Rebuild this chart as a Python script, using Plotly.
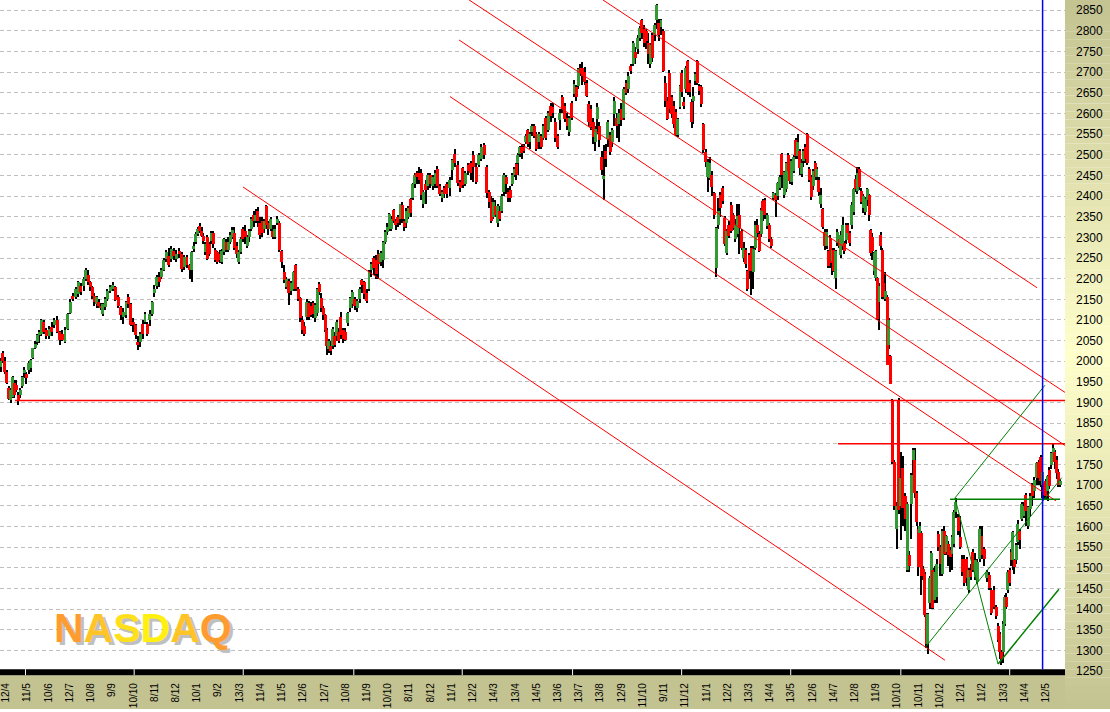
"""
NASDAQ candles with hand drawn trend channels, rebuilt in plotly.
"""
import plotly.graph_objects as go

WIDTH, HEIGHT = 1110, 712
PANEL_X = 1065  # left edge of the price panel
AXIS_Y = 678  # bottom of the plot area

month_labels = [
    "12/4", "11/5", "10/6", "12/7", "10/8", "9/9", "10/10", "8/11", "8/12", "10/1",
    "9/2", "13/3", "11/4", "11/5", "12/6", "12/7", "10/8", "11/9", "10/10", "8/11",
    "8/12", "11/1", "12/2", "14/3", "13/4", "14/5", "13/6", "13/7", "13/8", "12/9",
    "11/10", "9/11", "11/12", "11/1", "12/2", "13/3", "14/4", "13/5", "12/6", "14/7",
    "12/8", "11/9", "10/10", "10/11", "10/12", "12/1", "11/2", "13/3", "14/4", "12/5",
]
white_ticks = [0.92, 6.04, 11.18, 16.39, 21.5, 26.7, 31.84, 36.98, 42.17, 47.3]
price_ticks = list(range(1250, 2851, 50))

# one inner list per month label
opens = [
    [1985,2020,2000,1975,1935,1906,1914,1947,1943,1918,1918],
    [1939,1971,1970,1979,1983,2008,2032,2047,2063,2067],
    [2095,2075,2061,2083,2087,2099,2071,2067],
    [2047,2079,2118,2159,2155,2163,2182,2183],
    [2200,2209,2191,2179,2159,2139,2143,2135,2115,2131],
    [2151,2171,2175,2179,2155,2131,2107,2111],
    [2155,2139,2095,2087,2047,2047,2091,2095,2091],
    [2100,2115,2165,2183,2204,2204,2222,2248,2256],
    [2248,2268,2248,2268,2260,2228,2252,2232],
    [2220,2272,2288,2308,2328,2316,2303,2264,2300,2283,2292],
    [2311,2270,2265,2260,2240,2264,2290,2270,2290,2300],
    [2310,2278,2240,2265,2320,2315,2280,2300,2320,2355],
    [2340,2365,2335,2340,2320,2375,2335,2320,2315,2300],
    [2335,2335,2268,2216,2180,2195,2170,2175,2232],
    [2175,2152,2100,2085,2108,2140,2135,2140,2104,2116],
    [2188,2152,2128,2112,2076,2030,2036,2036,2062,2060,2072],
    [2108,2075,2072,2092,2128,2138,2150,2130,2150],
    [2196,2192,2165,2176,2220,2250,2244,2260,2240],
    [2245,2290,2312,2320,2320,2367,2340,2350,2345,2378],
    [2340,2335,2350,2392,2395,2430,2455,2455,2455,2380],
    [2430,2425,2450,2425,2430,2465,2425,2395,2420],
    [2430,2420,2463,2503,2475,2435,2467,2430],
    [2475,2480,2500,2470,2475,2490,2523,2470],
    [2410,2385,2350,2375,2335,2365,2365,2410,2445,2410],
    [2415,2430,2450,2478,2480,2503,2520,2520,2530,2559,2530],
    [2555,2570,2550,2530,2545,2540,2590,2560,2619],
    [2615,2580,2545,2585,2640,2619,2590,2555,2625],
    [2647,2663,2667,2710,2710,2700,2675,2623,2611,2579],
    [2531,2587,2570,2495,2442,2510,2539,2547,2530,2599],
    [2590,2575,2610,2590,2675,2660,2715,2720,2750],
    [2755,2783,2827,2805,2800,2770,2720,2790,2790,2827],
    [2820,2810,2799,2675,2631,2699,2639,2619,2603,2547],
    [2615,2699,2627,2659,2727,2675,2627,2631,2679,2727,2667],
    [2663,2575,2507,2447,2443,2451,2407,2227,2331,2403],
    [2419,2347,2263,2330,2379,2355,2295,2307,2355,2315],
    [2251,2270,2219,2258,2275,2215,2275,2330,2307,2307,2387],
    [2391,2327,2331,2295,2395,2403,2399,2420,2503,2402],
    [2417,2500,2485,2433,2460,2536,2497,2509,2453,2485,2518],
    [2550,2465,2445,2425,2480,2445,2440,2380,2368,2314,2278],
    [2266,2298,2242,2270,2202,2286,2295,2258,2278,2286,2294,2330],
    [2310,2330,2362,2441,2413,2465,2413,2370,2362,2390,2403],
    [2318,2302,2218,2202,2202,2143,2306,2270,2190,2150,2155,2040,2012],
    [1905,1757,1594,1905,1650,1741,1673,1495,1530,1655],
    [1761,1761,1680,1594,1585,1585,1498,1486,1385,1315,1415,1415,1495],
    [1422,1430,1582,1550,1486,1590,1538,1558,1542,1534,1558],
    [1634,1622,1574,1522,1522,1522,1446,1495,1538,1478],
    [1466,1522,1578,1546,1474,1482,1446,1446,1406],
    [1358,1340,1295,1295,1363,1430,1446,1494,1538,1518,1518,1518,1562],
    [1590,1618,1625,1677,1602,1642,1700,1685,1717,1757],
    [1769,1701,1705,1709,1685,1737,1749,1777,1780,1761,1733,1701],
]
closes = [
    [2000,2000,1975,1947,1908,1930,1963,1918,1930,1905,1930],
    [1963,1979,1960,1995,2003,2031,2043,2063,2071,2099],
    [2071,2061,2079,2071,2099,2071,2051,2051],
    [2075,2115,2143,2150,2175,2191,2167,2200],
    [2220,2193,2179,2159,2143,2155,2135,2131,2139,2151],
    [2171,2179,2185,2149,2133,2111,2119,2143],
    [2139,2087,2087,2063,2039,2067,2067,2115,2067],
    [2115,2143,2175,2204,2191,2220,2244,2264,2232],
    [2272,2256,2260,2260,2224,2252,2232,2220],
    [2264,2280,2308,2320,2316,2303,2292,2283,2248,2260,2311],
    [2283,2245,2240,2245,2268,2295,2270,2290,2305,2318],
    [2275,2260,2265,2295,2295,2300,2300,2315,2345,2340],
    [2355,2340,2305,2310,2340,2330,2320,2345,2300,2320],
    [2345,2270,2240,2196,2200,2165,2190,2215,2175],
    [2150,2105,2076,2066,2144,2108,2112,2115,2136,2176],
    [2168,2128,2112,2076,2038,2050,2024,2078,2040,2096,2050],
    [2064,2055,2052,2116,2152,2168,2135,2145,2175],
    [2184,2164,2145,2216,2235,2225,2212,2236,2262],
    [2290,2312,2325,2356,2345,2340,2330,2335,2380,2345],
    [2325,2365,2370,2360,2430,2450,2445,2440,2403,2410],
    [2415,2450,2430,2445,2455,2425,2405,2410,2405],
    [2405,2440,2487,2479,2431,2420,2427,2455],
    [2460,2455,2470,2435,2500,2520,2499,2408],
    [2385,2340,2385,2355,2375,2345,2400,2450,2430,2395],
    [2395,2450,2465,2452,2500,2519,2505,2510,2545,2527,2550],
    [2570,2545,2515,2550,2520,2570,2540,2600,2595],
    [2600,2540,2520,2600,2610,2587,2570,2590,2590],
    [2671,2639,2707,2698,2690,2676,2643,2579,2567,2543],
    [2563,2615,2535,2463,2448,2490,2579,2507,2560,2631],
    [2570,2600,2585,2660,2650,2690,2703,2770,2735],
    [2783,2807,2795,2770,2775,2745,2765,2735,2815,2862],
    [2790,2826,2703,2631,2587,2611,2599,2575,2547,2587],
    [2667,2651,2619,2711,2651,2651,2579,2643,2695,2675,2655],
    [2623,2511,2483,2483,2479,2423,2355,2323,2363,2371],
    [2387,2283,2315,2303,2315,2323,2331,2351,2323,2275],
    [2275,2235,2175,2219,2219,2271,2331,2311,2267,2367,2363],
    [2355,2355,2295,2279,2407,2391,2431,2445,2451,2458],
    [2480,2460,2437,2485,2495,2497,2530,2469,2480,2510,2490],
    [2480,2440,2397,2460,2445,2465,2410,2403,2326,2278,2314],
    [2230,2238,2270,2218,2266,2314,2280,2306,2330,2266,2330,2310],
    [2286,2378,2417,2417,2457,2421,2385,2400,2393,2417,2354],
    [2262,2266,2262,2266,2103,2183,2278,2155,2155,2170,1992,2100,1945],
    [1757,1650,1650,1640,1717,1645,1618,1655,1505,1725],
    [1785,1681,1610,1502,1600,1480,1480,1385,1315,1387,1475,1535,1403],
    [1490,1510,1550,1510,1590,1534,1578,1530,1526,1574,1634],
    [1658,1590,1550,1490,1462,1474,1494,1478,1494,1518],
    [1514,1594,1530,1522,1490,1450,1390,1406,1382],
    [1326,1295,1280,1363,1430,1406,1490,1462,1518,1586,1502,1554,1606],
    [1566,1654,1650,1637,1646,1673,1673,1713,1753,1717],
    [1709,1733,1677,1673,1721,1697,1777,1789,1757,1729,1701,1711],
]
highs = [
    [2007,2025,2010,1980,1940,1935,1965,1955,1955,1925,1935],
    [1965,1985,1975,2000,2005,2033,2050,2065,2075,2102],
    [2100,2080,2085,2095,2105,2110,2073,2075],
    [2082,2118,2150,2165,2180,2195,2190,2205],
    [2225,2222,2195,2182,2165,2158,2150,2140,2142,2155],
    [2175,2185,2192,2182,2160,2135,2130,2145],
    [2163,2142,2105,2090,2060,2070,2100,2120,2095],
    [2125,2147,2185,2210,2215,2225,2250,2270,2275],
    [2280,2275,2270,2275,2265,2258,2258,2235],
    [2268,2290,2312,2325,2335,2325,2310,2290,2305,2290,2316],
    [2315,2275,2268,2270,2272,2298,2295,2300,2312,2325],
    [2325,2290,2270,2300,2325,2330,2305,2320,2350,2365],
    [2368,2374,2350,2350,2345,2378,2340,2350,2330,2330],
    [2352,2340,2270,2232,2205,2200,2195,2218,2235],
    [2180,2155,2110,2095,2150,2145,2143,2145,2140,2178],
    [2192,2165,2135,2115,2080,2055,2050,2082,2070,2100,2080],
    [2120,2080,2080,2120,2155,2172,2155,2150,2180],
    [2200,2195,2175,2220,2240,2255,2258,2270,2268],
    [2292,2318,2335,2360,2352,2368,2345,2355,2382,2385],
    [2345,2370,2375,2395,2432,2455,2460,2470,2465,2415],
    [2440,2455,2455,2450,2462,2472,2430,2415,2425],
    [2435,2445,2490,2515,2485,2440,2470,2460],
    [2480,2485,2510,2480,2505,2525,2528,2475],
    [2415,2400,2395,2390,2380,2375,2405,2455,2452,2420],
    [2425,2455,2470,2480,2505,2522,2525,2525,2550,2562,2555],
    [2575,2575,2555,2555,2550,2575,2595,2605,2625],
    [2625,2590,2550,2610,2645,2625,2600,2595,2630],
    [2680,2668,2710,2720,2725,2712,2680,2630,2620,2590],
    [2570,2625,2580,2510,2523,2525,2585,2555,2565,2640],
    [2600,2610,2625,2665,2680,2700,2720,2775,2760],
    [2790,2812,2830,2815,2805,2795,2770,2795,2820,2865],
    [2830,2830,2805,2690,2640,2705,2645,2630,2610,2590],
    [2670,2705,2640,2715,2730,2680,2635,2665,2700,2730,2672],
    [2668,2578,2515,2490,2495,2460,2410,2325,2395,2410],
    [2425,2352,2320,2340,2385,2360,2345,2380,2380,2320],
    [2290,2275,2222,2262,2280,2278,2340,2345,2315,2372,2392],
    [2395,2360,2335,2300,2410,2407,2435,2450,2505,2460],
    [2482,2505,2490,2490,2500,2540,2550,2515,2490,2515,2525],
    [2552,2470,2450,2465,2485,2470,2445,2420,2372,2320,2320],
    [2270,2305,2275,2275,2270,2320,2300,2315,2350,2292,2335,2335],
    [2315,2385,2420,2450,2470,2470,2420,2405,2398,2420,2405],
    [2320,2310,2265,2270,2205,2190,2312,2275,2195,2215,2160,2105,2015],
    [1908,1760,1660,1910,1780,1770,1680,1660,1540,1730],
    [1790,1790,1685,1600,1610,1590,1505,1490,1390,1390,1480,1540,1500],
    [1505,1520,1590,1555,1595,1600,1580,1565,1550,1580,1640],
    [1668,1630,1625,1530,1530,1525,1500,1510,1545,1535],
    [1520,1600,1600,1550,1495,1490,1450,1455,1410],
    [1365,1345,1300,1370,1435,1440,1495,1500,1545,1590,1522,1560,1615],
    [1595,1660,1660,1680,1650,1680,1705,1720,1755,1762],
    [1772,1735,1710,1715,1725,1745,1780,1800,1785,1770,1740,1715],
]
lows = [
    [1975,1995,1970,1945,1905,1900,1910,1912,1925,1893,1912],
    [1935,1960,1945,1968,1975,2005,2030,2040,2045,2060],
    [2065,2055,2055,2060,2080,2068,2040,2048],
    [2045,2075,2115,2145,2150,2155,2160,2170],
    [2195,2185,2170,2150,2135,2130,2130,2125,2110,2125],
    [2145,2165,2170,2145,2128,2100,2090,2105],
    [2130,2085,2070,2055,2027,2035,2055,2090,2060],
    [2085,2110,2155,2175,2180,2200,2218,2240,2228],
    [2240,2245,2240,2250,2215,2222,2225,2200],
    [2191,2265,2285,2303,2310,2300,2285,2258,2245,2255,2285],
    [2275,2240,2235,2238,2235,2258,2265,2265,2285,2295],
    [2270,2250,2235,2260,2290,2285,2275,2290,2315,2325],
    [2335,2325,2295,2300,2310,2320,2305,2315,2295,2295],
    [2330,2265,2225,2190,2175,2137,2160,2170,2170],
    [2145,2095,2066,2060,2100,2100,2108,2105,2095,2110],
    [2160,2120,2100,2070,2016,2020,2016,2030,2035,2050,2045],
    [2055,2045,2048,2085,2120,2130,2125,2120,2140],
    [2165,2150,2140,2170,2205,2210,2200,2200,2230],
    [2225,2285,2305,2315,2315,2335,2318,2325,2330,2335],
    [2315,2322,2345,2350,2390,2420,2430,2430,2390,2370],
    [2380,2415,2420,2415,2420,2420,2400,2385,2395],
    [2395,2400,2440,2470,2425,2410,2420,2425],
    [2450,2440,2435,2430,2470,2485,2490,2395],
    [2370,2335,2345,2350,2325,2340,2360,2400,2405,2385],
    [2385,2425,2445,2440,2450,2495,2490,2505,2525,2520,2515],
    [2545,2540,2510,2515,2515,2535,2535,2555,2580],
    [2590,2530,2515,2560,2600,2580,2560,2545,2585],
    [2640,2630,2660,2690,2670,2670,2640,2570,2560,2525],
    [2510,2550,2520,2450,2391,2470,2520,2500,2520,2570],
    [2540,2530,2570,2585,2645,2650,2695,2715,2720],
    [2745,2775,2780,2760,2755,2720,2710,2725,2775,2805],
    [2775,2790,2700,2615,2585,2600,2590,2565,2545,2543],
    [2610,2640,2610,2650,2645,2640,2565,2575,2670,2670,2645],
    [2615,2505,2470,2410,2440,2400,2345,2205,2320,2350],
    [2380,2280,2258,2298,2310,2318,2290,2300,2260,2270],
    [2240,2225,2170,2200,2160,2175,2270,2300,2265,2300,2340],
    [2345,2320,2290,2275,2390,2350,2390,2415,2420,2395],
    [2410,2445,2430,2428,2455,2490,2490,2450,2445,2470,2480],
    [2475,2435,2390,2415,2440,2440,2400,2370,2320,2270,2272],
    [2225,2225,2210,2215,2175,2280,2275,2250,2270,2260,2285,2305],
    [2280,2320,2355,2410,2405,2415,2380,2360,2355,2375,2340],
    [2255,2245,2210,2195,2100,2075,2270,2150,2150,2145,1990,2030,1945],
    [1750,1640,1546,1630,1567,1600,1590,1490,1490,1570],
    [1700,1670,1600,1480,1570,1435,1470,1380,1305,1290,1400,1400,1400],
    [1415,1415,1540,1480,1480,1530,1530,1505,1490,1495,1550],
    [1620,1580,1545,1480,1455,1455,1440,1470,1490,1470],
    [1460,1515,1520,1505,1465,1445,1385,1400,1375],
    [1320,1280,1265,1270,1358,1400,1440,1455,1505,1495,1485,1510,1555],
    [1545,1612,1620,1600,1595,1625,1650,1670,1700,1700],
    [1695,1670,1665,1665,1662,1690,1740,1770,1740,1715,1695,1695],
]

# drawn lines, as (month, price) ends
red_channels = [
    ([11.17, 44.25], [2422, 1276]),
    ([20.92, 49.48], [2641, 1662]),
    ([21.35, 50.14], [2778, 1788]),
    ([21.82, 50.19], [2875, 1915]),
    ([28.13, 48.59], [2875, 2178]),
]
red_levels = [
    ([0.42, 50.1], [1905, 1905]),
    ([39.21, 50.1], [1800, 1800]),
]
green_thin = [
    ([44.72, 48.96], [1669, 1942]),
    ([43.35, 49.75], [1309, 1718]),
    ([44.72, 46.75], [1669, 1267]),
]
green_bottom = ([46.75, 49.62], [1267, 1448])
green_level = ([44.49, 49.67], [1666, 1666])
blue_cursor = ([48.85, 48.85], [1254, 2875])

logo_letters = ["N", "A", "S", "D", "A", "Q"]
logo_colors = ["#FF9C30", "#FFC428", "#FFE01C", "#FFF010", "#FFC428", "#FF9C30"]

x_left = -0.283
x_right = 49.906
y_bottom = 1239.9
y_top = 2874.8

# bars of a month share its slot evenly
bar_x, bar_open, bar_close, bar_high, bar_low = [], [], [], [], []
for month, month_opens in enumerate(opens):
    n = len(month_opens)
    for j in range(n):
        bar_x.append(month + x_left + (j + 0.5) / n)
        bar_open.append(month_opens[j])
        bar_close.append(closes[month][j])
        bar_high.append(highs[month][j])
        bar_low.append(lows[month][j])

fig = go.Figure()

# wicks
fig.add_trace(go.Bar(
    x=bar_x,
    y=[h - l for h, l in zip(bar_high, bar_low)],
    base=bar_low,
    width=0.05,
    marker=dict(color="#000000", line=dict(width=0)),
))
# bodies
fig.add_trace(go.Bar(
    x=bar_x,
    y=[abs(c - o) for o, c in zip(bar_open, bar_close)],
    base=[min(o, c) for o, c in zip(bar_open, bar_close)],
    width=0.14,
    marker=dict(
        color=["#FF0000" if c < o else "#339933" for o, c in zip(bar_open, bar_close)],
        line=dict(width=0),
    ),
))


def add_lines(lines, color, width):
    for xs, ys in lines:
        fig.add_trace(go.Scatter(
            x=xs, y=ys, mode="lines", cliponaxis=False,
            line=dict(color=color, width=width),
        ))


add_lines(red_channels, "#FF0000", 1)
add_lines(red_levels, "#FF0000", 1.5)
add_lines(green_thin, "#008000", 1)
add_lines([green_bottom], "#008000", 1.5)
add_lines([green_level], "#008000", 1.5)
add_lines([blue_cursor], "#0000FF", 1.5)

# price panel gradient, khaki at the ends and pale yellow in the middle
shapes = []
band = 8
edge = (195, 194, 145)
middle = (255, 255, 204)
for top in range(0, HEIGHT, band):
    t = 1 - abs((top + band / 2) / HEIGHT - 0.5) * 2
    rgb = [round(e + (m - e) * t) for e, m in zip(edge, middle)]
    shapes.append(dict(
        type="rect", xref="paper", yref="paper", layer="below", line=dict(width=0),
        x0=PANEL_X / WIDTH, x1=1,
        y0=1 - (top + band) / HEIGHT, y1=1 - top / HEIGHT,
        fillcolor="rgb(%d,%d,%d)" % tuple(rgb),
    ))
# date strip and the black bar above it
shapes.append(dict(
    type="rect", xref="paper", yref="paper", layer="below", line=dict(width=0),
    x0=0, x1=PANEL_X / WIDTH, y0=0, y1=(HEIGHT - AXIS_Y) / HEIGHT, fillcolor="#C3C291",
))
shapes.append(dict(
    type="rect", xref="paper", yref="paper", layer="above", line=dict(width=0),
    x0=0, x1=PANEL_X / WIDTH,
    y0=(HEIGHT - AXIS_Y) / HEIGHT, y1=(HEIGHT - AXIS_Y + 6) / HEIGHT, fillcolor="#000000",
))
for tick in white_ticks:
    shapes.append(dict(
        type="line", xref="x", yref="paper", layer="above",
        x0=tick, x1=tick,
        y0=(HEIGHT - AXIS_Y) / HEIGHT, y1=(HEIGHT - AXIS_Y + 6) / HEIGHT,
        line=dict(color="#FFFFFF", width=1),
    ))

logo_colored = "".join(
    "<span style='color:%s'><b>%s</b></span>" % (c, t) for t, c in zip(logo_letters, logo_colors)
)
annotations = [
    dict(
        text=logo_colored, xref="paper", yref="paper", showarrow=False,
        xanchor="center", yanchor="middle",
        x=143 / WIDTH, y=1 - 631 / HEIGHT,
        font=dict(
            family="Liberation Sans", size=41, color="#FF9C30",
            shadow="3px 3px 0 #C0C0C0",
        ),
    ),
]

fig.update_layout(
    width=WIDTH,
    height=HEIGHT,
    margin=dict(l=0, r=0, t=0, b=0),
    paper_bgcolor="#FFFFFF",
    plot_bgcolor="#FFFFFF",
    barmode="overlay",
    bargap=0,
    showlegend=False,
    hovermode=False,
    font=dict(family="Liberation Sans", color="#000000"),
    shapes=shapes,
    annotations=annotations,
    xaxis=dict(
        domain=[0, PANEL_X / WIDTH],
        range=[x_left, x_right],
        tickmode="array",
        tickvals=list(range(len(month_labels))),
        ticktext=month_labels,
        tickangle=-90,
        tickfont=dict(size=10),
        ticks="",
        ticklabelstandoff=5,
        showgrid=False,
        zeroline=False,
        showline=False,
    ),
    yaxis=dict(
        domain=[(HEIGHT - AXIS_Y) / HEIGHT, 1],
        range=[y_bottom, y_top],
        side="right",
        tickmode="array",
        tickvals=price_ticks,
        tickfont=dict(size=12),
        ticks="",
        ticklabelstandoff=10,
        showgrid=True,
        gridcolor="#C0C0C0",
        gridwidth=1,
        griddash="4px,3px",
        zeroline=False,
        showline=False,
    ),
)

fig.write_html(
    "out.html",
    config={"displayModeBar": False},
    post_script="document.body.style.margin='0';",
)
